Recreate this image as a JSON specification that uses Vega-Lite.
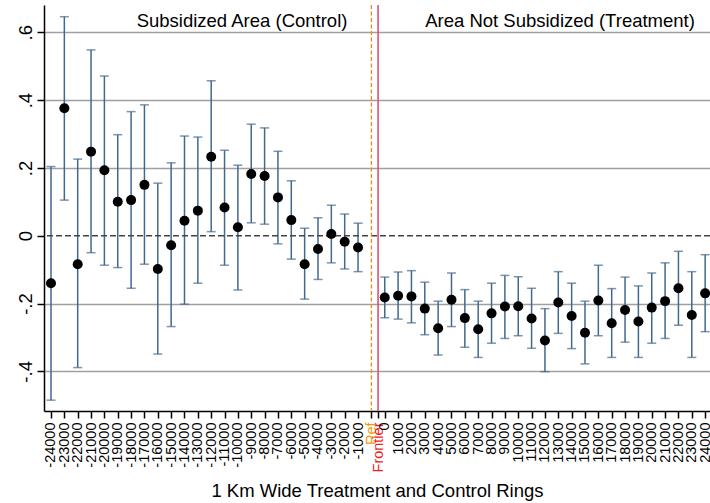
{
  "$schema": "https://vega.github.io/schema/vega-lite/v6.json",
  "width": 666,
  "height": 406,
  "autosize": {"type": "none"},
  "padding": {"left": 44, "top": 5, "right": 0, "bottom": 92},
  "config": {"font": "Liberation Sans", "view": {"stroke": null}, "axis": {"labelOverlap": false}},
  "data": {
    "values": [
      {"ring": -24000, "idx": 1, "coef": -0.140, "lo": -0.485, "hi": 0.204},
      {"ring": -23000, "idx": 2, "coef": 0.376, "lo": 0.105, "hi": 0.646},
      {"ring": -22000, "idx": 3, "coef": -0.084, "lo": -0.389, "hi": 0.226},
      {"ring": -21000, "idx": 4, "coef": 0.248, "lo": -0.050, "hi": 0.548},
      {"ring": -20000, "idx": 5, "coef": 0.193, "lo": -0.087, "hi": 0.471},
      {"ring": -19000, "idx": 6, "coef": 0.100, "lo": -0.094, "hi": 0.298},
      {"ring": -18000, "idx": 7, "coef": 0.105, "lo": -0.155, "hi": 0.366},
      {"ring": -17000, "idx": 8, "coef": 0.150, "lo": -0.084, "hi": 0.386},
      {"ring": -16000, "idx": 9, "coef": -0.098, "lo": -0.349, "hi": 0.155},
      {"ring": -15000, "idx": 10, "coef": -0.028, "lo": -0.268, "hi": 0.215},
      {"ring": -14000, "idx": 11, "coef": 0.044, "lo": -0.202, "hi": 0.294},
      {"ring": -13000, "idx": 12, "coef": 0.074, "lo": -0.140, "hi": 0.291},
      {"ring": -12000, "idx": 13, "coef": 0.233, "lo": 0.012, "hi": 0.457},
      {"ring": -11000, "idx": 14, "coef": 0.083, "lo": -0.087, "hi": 0.252},
      {"ring": -10000, "idx": 15, "coef": 0.025, "lo": -0.160, "hi": 0.208},
      {"ring": -9000, "idx": 16, "coef": 0.182, "lo": 0.038, "hi": 0.329},
      {"ring": -8000, "idx": 17, "coef": 0.176, "lo": 0.034, "hi": 0.318},
      {"ring": -7000, "idx": 18, "coef": 0.113, "lo": -0.024, "hi": 0.249},
      {"ring": -6000, "idx": 19, "coef": 0.046, "lo": -0.069, "hi": 0.162},
      {"ring": -5000, "idx": 20, "coef": -0.084, "lo": -0.187, "hi": 0.022},
      {"ring": -4000, "idx": 21, "coef": -0.039, "lo": -0.129, "hi": 0.053},
      {"ring": -3000, "idx": 22, "coef": 0.005, "lo": -0.080, "hi": 0.090},
      {"ring": -2000, "idx": 23, "coef": -0.018, "lo": -0.098, "hi": 0.064},
      {"ring": -1000, "idx": 24, "coef": -0.035, "lo": -0.106, "hi": 0.037},
      {"ring": 0, "idx": 26, "coef": -0.182, "lo": -0.242, "hi": -0.122},
      {"ring": 1000, "idx": 27, "coef": -0.177, "lo": -0.246, "hi": -0.107},
      {"ring": 2000, "idx": 28, "coef": -0.179, "lo": -0.257, "hi": -0.103},
      {"ring": 3000, "idx": 29, "coef": -0.215, "lo": -0.292, "hi": -0.137},
      {"ring": 4000, "idx": 30, "coef": -0.273, "lo": -0.352, "hi": -0.193},
      {"ring": 5000, "idx": 31, "coef": -0.189, "lo": -0.268, "hi": -0.110},
      {"ring": 6000, "idx": 32, "coef": -0.243, "lo": -0.329, "hi": -0.159},
      {"ring": 7000, "idx": 33, "coef": -0.276, "lo": -0.359, "hi": -0.193},
      {"ring": 8000, "idx": 34, "coef": -0.229, "lo": -0.317, "hi": -0.140},
      {"ring": 9000, "idx": 35, "coef": -0.209, "lo": -0.303, "hi": -0.117},
      {"ring": 10000, "idx": 36, "coef": -0.208, "lo": -0.295, "hi": -0.121},
      {"ring": 11000, "idx": 37, "coef": -0.244, "lo": -0.332, "hi": -0.155},
      {"ring": 12000, "idx": 38, "coef": -0.309, "lo": -0.401, "hi": -0.215},
      {"ring": 13000, "idx": 39, "coef": -0.197, "lo": -0.288, "hi": -0.106},
      {"ring": 14000, "idx": 40, "coef": -0.237, "lo": -0.333, "hi": -0.140},
      {"ring": 15000, "idx": 41, "coef": -0.286, "lo": -0.378, "hi": -0.193},
      {"ring": 16000, "idx": 42, "coef": -0.191, "lo": -0.295, "hi": -0.087},
      {"ring": 17000, "idx": 43, "coef": -0.258, "lo": -0.359, "hi": -0.156},
      {"ring": 18000, "idx": 44, "coef": -0.219, "lo": -0.314, "hi": -0.122},
      {"ring": 19000, "idx": 45, "coef": -0.253, "lo": -0.359, "hi": -0.148},
      {"ring": 20000, "idx": 46, "coef": -0.212, "lo": -0.317, "hi": -0.110},
      {"ring": 21000, "idx": 47, "coef": -0.193, "lo": -0.303, "hi": -0.080},
      {"ring": 22000, "idx": 48, "coef": -0.155, "lo": -0.264, "hi": -0.046},
      {"ring": 23000, "idx": 49, "coef": -0.234, "lo": -0.359, "hi": -0.106},
      {"ring": 24000, "idx": 50, "coef": -0.170, "lo": -0.283, "hi": -0.056}
    ]
  },
  "layer": [
    {
      "mark": {"type": "rule", "color": "#41698f", "strokeWidth": 1.5},
      "encoding": {
        "x": {
          "field": "idx", "type": "quantitative",
          "scale": {"domain": [0.476, 50.364], "nice": false, "zero": false},
          "axis": {
            "values": [1,2,3,4,5,6,7,8,9,10,11,12,13,14,15,16,17,18,19,20,21,22,23,24,25,25.5,26,27,28,29,30,31,32,33,34,35,36,37,38,39,40,41,42,43,44,45,46,47,48,49,50],
            "tickCount": 200,
            "labelExpr": "datum.value < 25 ? '' + (datum.value - 25) * 1000 : datum.value == 25 ? 'Ref' : datum.value == 25.5 ? 'Frontier' : '' + (datum.value - 26) * 1000",
            "labelAngle": -90,
            "labelAlign": "right",
            "labelBaseline": "middle",
            "labelFontSize": 14.5,
            "labelColor": {"condition": [{"test": "datum.value == 25", "value": "#F29B0C"}, {"test": "datum.value == 25.5", "value": "#EE1C25"}], "value": "#000000"},
            "labelOverlap": false,
            "labelBound": false,
            "labelFlush": false,
            "labelPadding": 4,
            "tickSize": 7,
            "tickColor": "#000000",
            "tickWidth": 1.5,
            "domainColor": "#000000",
            "domainWidth": 1.5,
            "grid": false,
            "title": "1 Km Wide Treatment and Control Rings",
            "titleFontSize": 18.5,
            "titleFontWeight": "normal",
            "titleColor": "#000000",
            "titleY": 85,
            "titleBaseline": "alphabetic"
          }
        },
        "y": {
          "field": "lo", "type": "quantitative",
          "scale": {"domain": [-0.517, 0.6805], "nice": false, "zero": false},
          "axis": {
            "values": [-0.4, -0.2, 0, 0.2, 0.4, 0.6],
            "labelExpr": "datum.value == 0 ? '0' : (datum.value < 0 ? '-' : '') + '.' + round(abs(datum.value) * 10)",
            "labelAngle": -90,
            "labelAlign": "center",
            "labelBaseline": "alphabetic",
            "labelFontSize": 18.5,
            "labelColor": "#000000",
            "labelPadding": 6,
            "labelOverlap": false,
            "labelFlush": false,
            "tickSize": 7,
            "tickColor": "#000000",
            "tickWidth": 1.5,
            "domainColor": "#000000",
            "domainWidth": 1.5,
            "grid": true,
            "gridColor": "#a0a0a0",
            "gridWidth": 1.3,
            "gridOpacity": {"condition": {"test": "datum.value == 0", "value": 0}, "value": 1},
            "title": null
          }
        },
        "y2": {"field": "hi"}
      }
    },
    {
      "mark": {"type": "tick", "orient": "horizontal", "color": "#41698f", "size": 9, "thickness": 1.5},
      "encoding": {
        "x": {"field": "idx", "type": "quantitative"},
        "y": {"field": "lo", "type": "quantitative"}
      }
    },
    {
      "mark": {"type": "tick", "orient": "horizontal", "color": "#41698f", "size": 9, "thickness": 1.5},
      "encoding": {
        "x": {"field": "idx", "type": "quantitative"},
        "y": {"field": "hi", "type": "quantitative"}
      }
    },
    {
      "data": {"values": [{}]},
      "mark": {"type": "rule", "color": "#444444", "strokeDash": [6, 3], "strokeWidth": 1.4},
      "encoding": {"y": {"datum": 0, "type": "quantitative"}}
    },
    {
      "data": {"values": [{}]},
      "mark": {"type": "rule", "color": "#EE8A12", "strokeDash": [4, 2.5], "strokeWidth": 1.3},
      "encoding": {"x": {"datum": 25, "type": "quantitative"}}
    },
    {
      "data": {"values": [{}]},
      "mark": {"type": "rule", "color": "#D9527A", "strokeWidth": 1.6},
      "encoding": {"x": {"datum": 25.5, "type": "quantitative"}}
    },
    {
      "mark": {"type": "circle", "color": "#000000", "opacity": 1, "size": 100},
      "encoding": {
        "x": {"field": "idx", "type": "quantitative"},
        "y": {"field": "coef", "type": "quantitative"}
      }
    },
    {
      "data": {"values": [{}]},
      "mark": {"type": "text", "text": "Subsidized Area (Control)", "fontSize": 18.5, "align": "center", "baseline": "alphabetic", "color": "#000000"},
      "encoding": {"x": {"datum": 15.31, "type": "quantitative"}, "y": {"datum": 0.6156, "type": "quantitative"}}
    },
    {
      "data": {"values": [{}]},
      "mark": {"type": "text", "text": "Area Not Subsidized (Treatment)", "fontSize": 18.5, "align": "center", "baseline": "alphabetic", "color": "#000000"},
      "encoding": {"x": {"datum": 39.13, "type": "quantitative"}, "y": {"datum": 0.6156, "type": "quantitative"}}
    }
  ]
}
